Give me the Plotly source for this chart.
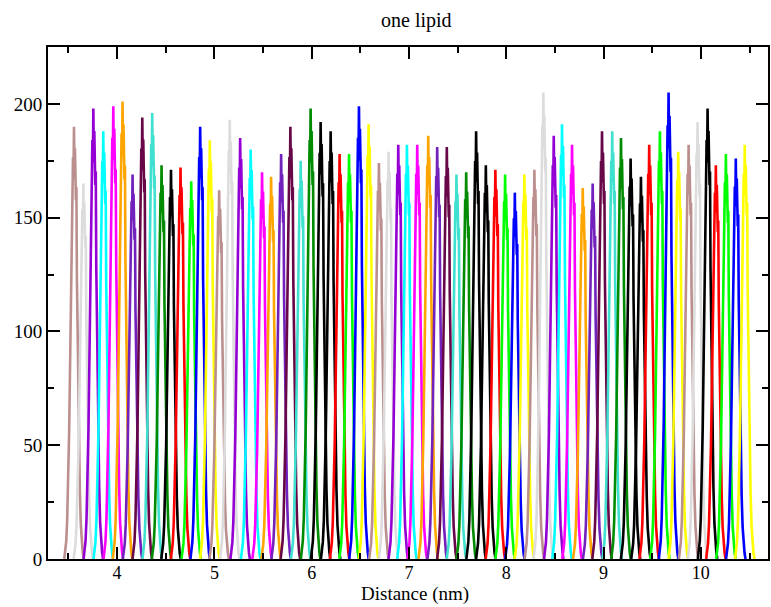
import plotly.graph_objects as go

# Peak centres (nm), peak heights (counts) and colours
centers = [3.557, 3.653, 3.756, 3.858, 3.961, 4.056, 4.159, 4.259, 4.361, 4.457,
           4.554, 4.652, 4.762, 4.854, 4.953, 5.049, 5.158, 5.265, 5.373, 5.490,
           5.583, 5.686, 5.781, 5.887, 5.989, 6.092, 6.195, 6.287, 6.384, 6.486,
           6.585, 6.691, 6.790, 6.890, 6.979, 7.085, 7.198, 7.290, 7.389, 7.488,
           7.588, 7.690, 7.790, 7.888, 7.988, 8.088, 8.186, 8.289, 8.381, 8.488,
           8.573, 8.676, 8.786, 8.888, 8.984, 9.089, 9.179, 9.278, 9.384, 9.469,
           9.579, 9.668, 9.767, 9.874, 9.966, 10.069, 10.154, 10.257, 10.359, 10.451]
heights = [190, 165, 198, 188, 199, 201, 169, 194, 196, 173,
           171, 172, 166, 190, 184, 162, 193, 185, 180, 170,
           168, 178, 190, 175, 198, 192, 188, 178, 178, 199,
           191, 174, 179, 182, 182, 182, 186, 181, 181, 169,
           170, 188, 173, 171, 169, 161, 169, 171, 205, 186,
           191, 182, 163, 165, 188, 188, 185, 176, 168, 182,
           188, 205, 179, 182, 192, 198, 173, 178, 176, 182]
color_names = ["brown", "grey", "violet", "cyan", "magenta", "orange", "indigo", "maroon", "turquoise", "green4",
               "black", "red", "green", "blue", "yellow", "brown", "grey", "violet", "cyan", "magenta",
               "orange", "indigo", "maroon", "turquoise", "green4", "black", "black", "red", "green", "blue",
               "yellow", "brown", "grey", "violet", "cyan", "magenta", "orange", "indigo", "maroon", "turquoise",
               "green4", "black", "black", "red", "green", "blue", "yellow", "brown", "grey", "violet",
               "cyan", "magenta", "orange", "indigo", "maroon", "turquoise", "green4", "black", "black", "red",
               "green", "blue", "yellow", "brown", "grey", "black", "red", "green", "blue", "yellow"]

# Typical (slightly ragged) peak shape: offset in nm, fraction of height
profile_dx = [-0.10, -0.09, -0.08, -0.07, -0.06, -0.05, -0.04, -0.03, -0.025, -0.02, -0.01, -0.005, 0.0,
              0.005, 0.01, 0.02, 0.025, 0.03, 0.04, 0.05, 0.06, 0.07, 0.08, 0.09, 0.10]
profile_frac = [0.0, 0.02, 0.04, 0.09, 0.17, 0.29, 0.45, 0.64, 0.60, 0.84, 0.93, 0.88, 1.0,
                0.90, 0.95, 0.83, 0.86, 0.65, 0.46, 0.28, 0.16, 0.08, 0.035, 0.015, 0.0]

x_ticks = [4, 5, 6, 7, 8, 9, 10]
y_ticks = [0, 50, 100, 150, 200]

palette = {
    "black": "#000000", "red": "#FF0000", "green": "#00FF00", "blue": "#0000FF",
    "yellow": "#FFFF00", "brown": "#BC8F8F", "grey": "#DCDCDC", "violet": "#9400D3",
    "cyan": "#00FFFF", "magenta": "#FF00FF", "orange": "#FFA500", "indigo": "#7221BC",
    "maroon": "#670748", "turquoise": "#40E0D0", "green4": "#008B00",
}

fig = go.Figure()
for c, h, cn in zip(centers, heights, color_names):
    fig.add_trace(go.Scatter(
        x=[c + d for d in profile_dx],
        y=[h * f for f in profile_frac],
        mode="lines",
        line=dict(color=palette[cn], width=2.6),
        hoverinfo="skip",
        showlegend=False,
    ))

font_family = "Liberation Serif"
fig.update_layout(
    width=771, height=607,
    margin=dict(l=48, r=1, t=47, b=48),
    paper_bgcolor="white", plot_bgcolor="white",
    font=dict(family=font_family, size=19, color="black"),
    title=dict(text="one lipid", x=0.54, xanchor="center", y=0.967, yanchor="middle",
               font=dict(family=font_family, size=20, color="black")),
    showlegend=False,
)
fig.add_annotation(text="Distance (nm)", xref="paper", yref="paper", x=0.5 + 7 / 722, y=-47 / 512,
                   xanchor="center", yanchor="bottom", showarrow=False, borderpad=0,
                   font=dict(family=font_family, size=19, color="black"))
fig.update_xaxes(
    range=[3.29, 10.69], tickvals=x_ticks, ticktext=[str(t) for t in x_ticks],
    ticks="inside", ticklen=12, tickwidth=1.5, tickcolor="black",
    minor=dict(ticks="inside", ticklen=6, tickwidth=1.5, tickcolor="black", dtick=0.5, tick0=3.5),
    showline=True, linecolor="black", linewidth=2, mirror="ticks",
    showgrid=False, zeroline=False,
    tickfont=dict(family=font_family, size=18),
    ticklabelstandoff=-4,
)
fig.update_yaxes(
    range=[0, 225], tickvals=y_ticks, ticktext=[str(t) for t in y_ticks],
    ticks="inside", ticklen=12, tickwidth=1.5, tickcolor="black",
    minor=dict(ticks="inside", ticklen=6, tickwidth=1.5, tickcolor="black", dtick=25, tick0=0),
    showline=True, linecolor="black", linewidth=2, mirror="ticks",
    showgrid=False, zeroline=False,
    tickfont=dict(family=font_family, size=19),
)

fig.write_html("out.html")
